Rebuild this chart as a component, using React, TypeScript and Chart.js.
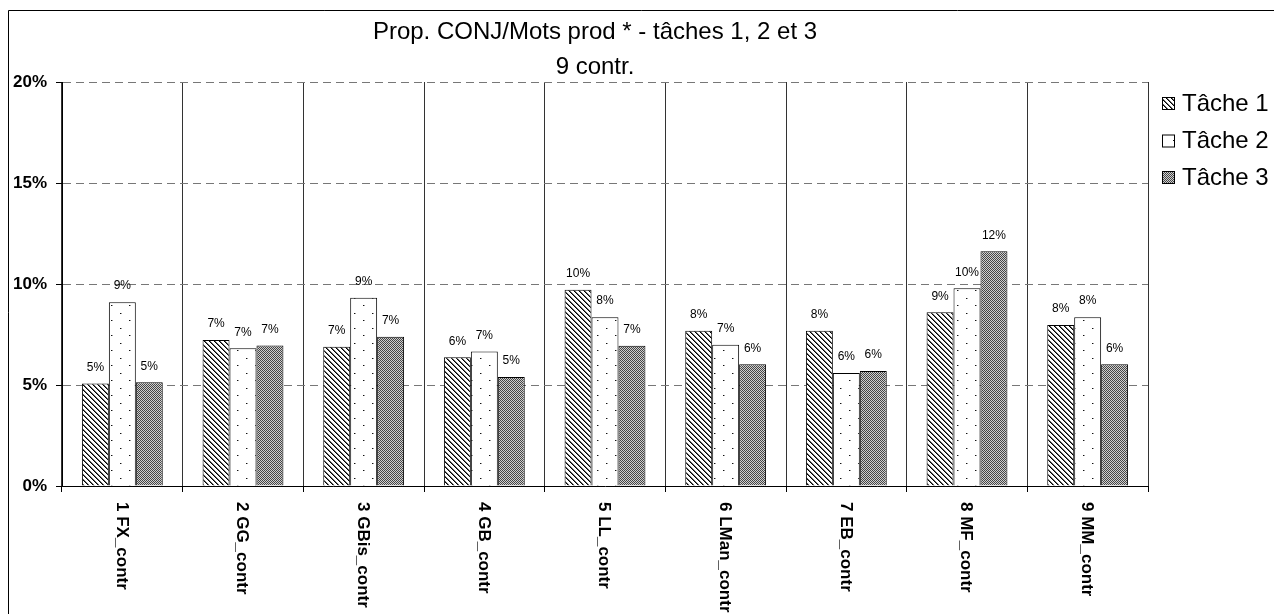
import { useEffect, useRef } from 'react';
import { Chart, registerables } from 'chart.js';

Chart.register(...registerables);

const categories = ['1 FX_contr', '2 GG_contr', '3 GBis_contr', '4 GB_contr', '5 LL_contr', '6 LMan_contr', '7 EB_contr', '8 MF_contr', '9 MM_contr'];
const seriesNames = ['Tâche 1', 'Tâche 2', 'Tâche 3'];
const tache1 = [5.08, 7.23, 6.89, 6.37, 9.72, 7.69, 7.69, 8.6, 7.97];
const tache2 = [9.1, 6.82, 9.32, 6.66, 8.36, 6.99, 5.59, 9.79, 8.36];
const tache3 = [5.13, 6.95, 7.39, 5.4, 6.94, 6.03, 5.69, 11.62, 6.03];
const yMin = 0;
const yMax = 20;
const yStep = 5;
const titleLines = ['Prop. CONJ/Mots prod * - tâches 1, 2 et 3', '9 contr.'];

const FONT = '"Liberation Sans", Arial, sans-serif';

function makePattern(kind: number): CanvasPattern | string {
  const c = document.createElement('canvas');
  const ctx = c.getContext('2d');
  if (!ctx) return '#888';
  if (kind === 0) {
    c.width = 5; c.height = 5;
    ctx.fillStyle = '#fff';
    ctx.fillRect(0, 0, 5, 5);
    for (let i = 0; i < 5; i++) {
      ctx.fillStyle = '#000';
      ctx.fillRect(i, i, 1, 1);
      ctx.fillStyle = '#666';
      ctx.fillRect((i + 1) % 5, i, 1, 1);
    }
  } else if (kind === 1) {
    c.width = 18; c.height = 15;
    ctx.fillStyle = '#fff';
    ctx.fillRect(0, 0, 18, 15);
    ctx.fillStyle = '#111';
    ctx.fillRect(4, 3, 1, 1);
    ctx.fillRect(13, 10, 1, 1);
    ctx.fillStyle = '#999';
    ctx.fillRect(5, 3, 1, 1);
    ctx.fillRect(14, 10, 1, 1);
  } else {
    c.width = 2; c.height = 2;
    ctx.fillStyle = '#cfcfcf';
    ctx.fillRect(0, 0, 2, 2);
    ctx.fillStyle = '#454545';
    ctx.fillRect(0, 0, 1, 1);
    ctx.fillRect(1, 1, 1, 1);
  }
  return ctx.createPattern(c, 'repeat') || '#888';
}

export default function App() {
  const ref = useRef<HTMLCanvasElement>(null);

  useEffect(() => {
    const canvas = ref.current;
    if (!canvas) return;
    const patterns = [makePattern(0), makePattern(1), makePattern(2)];
    const values = [tache1, tache2, tache3];

    const custom = {
      id: 'custom',
      beforeDraw(chart: any) {
        const ctx = chart.ctx;
        ctx.save();
        ctx.fillStyle = '#fff';
        ctx.fillRect(0, 0, chart.width, chart.height);
        ctx.strokeStyle = '#000';
        ctx.lineWidth = 1;
        ctx.beginPath();
        ctx.moveTo(0.5, chart.height);
        ctx.lineTo(0.5, 0.5);
        ctx.lineTo(chart.width, 0.5);
        ctx.stroke();
        ctx.restore();
      },
      afterDraw(chart: any) {
        const ctx = chart.ctx;
        ctx.save();
        // data labels
        ctx.font = '12px ' + FONT;
        ctx.fillStyle = '#000';
        ctx.textAlign = 'center';
        ctx.textBaseline = 'middle';
        chart.data.datasets.forEach((ds: any, di: number) => {
          const meta = chart.getDatasetMeta(di);
          meta.data.forEach((bar: any, i: number) => {
            const v = ds.data[i];
            ctx.fillText(Math.round(v) + '%', bar.x, bar.y - 16);
          });
        });
        // x labels (rotated downward)
        const xs = chart.scales.x;
        ctx.font = 'bold 17px ' + FONT;
        ctx.textAlign = 'left';
        ctx.textBaseline = 'middle';
        categories.forEach((lab, i) => {
          const x = xs.getPixelForValue(i);
          ctx.save();
          ctx.translate(x - 1, 492);
          ctx.rotate(Math.PI / 2);
          ctx.fillText(lab, 0, 0);
          ctx.restore();
        });
        // title
        ctx.font = '24px ' + FONT;
        ctx.textAlign = 'center';
        ctx.fillText(titleLines[0], 587, 22);
        ctx.fillText(titleLines[1], 587, 57);
        // legend
        const rows = [93, 130.5, 167];
        seriesNames.forEach((name, i) => {
          const y = rows[i];
          ctx.fillStyle = patterns[i] as any;
          ctx.fillRect(1154, y - 6, 13, 13);
          ctx.strokeStyle = '#000';
          ctx.lineWidth = 1;
          ctx.strokeRect(1154.5, y - 5.5, 12, 12);
          ctx.fillStyle = '#000';
          ctx.font = '24px ' + FONT;
          ctx.textAlign = 'left';
          ctx.textBaseline = 'middle';
          ctx.fillText(name, 1174, y + 1);
        });
        ctx.restore();
      },
    };

    const chart = new Chart(canvas, {
      type: 'bar',
      data: {
        labels: categories,
        datasets: seriesNames.map((name, i) => ({
          label: name,
          data: values[i],
          backgroundColor: patterns[i] as any,
          borderColor: '#000',
          borderWidth: 1,
          borderSkipped: 'bottom',
          categoryPercentage: 0.67,
          barPercentage: 1.0,
        })),
      },
      options: {
        animation: false,
        responsive: false,
        devicePixelRatio: 1,
        layout: { padding: { top: 72, right: 126, left: 0, bottom: 0 } },
        plugins: {
          legend: { display: false },
          title: { display: false },
          tooltip: { enabled: false },
        },
        scales: {
          x: {
            type: 'category',
            offset: true,
            grid: { offset: true, color: '#333', tickLength: 6, tickColor: '#000', lineWidth: 1 },
            border: { color: '#000', width: 1 },
            ticks: { display: false },
            afterFit: (s: any) => { s.height = 128; },
          },
          y: {
            min: yMin,
            max: yMax,
            ticks: {
              stepSize: yStep,
              color: '#000',
              padding: 9,
              font: { family: FONT, size: 17, weight: 'bold' },
              callback: (v: any) => v + '%',
            },
            grid: { color: '#777', tickLength: 6, tickColor: '#000', lineWidth: 1 },
            border: { color: '#000', width: 1, dash: [8, 5] },
            afterFit: (s: any) => { s.width = 54; },
          },
        },
      },
      plugins: [custom],
    } as any);

    return () => chart.destroy();
  }, []);

  return (
    <div style={{ position: 'fixed', left: 8, top: 10, width: 1266, height: 604, overflow: 'hidden' }}>
      <canvas ref={ref} width={1266} height={604} style={{ display: 'block', width: 1266, height: 604 }} />
    </div>
  );
}
